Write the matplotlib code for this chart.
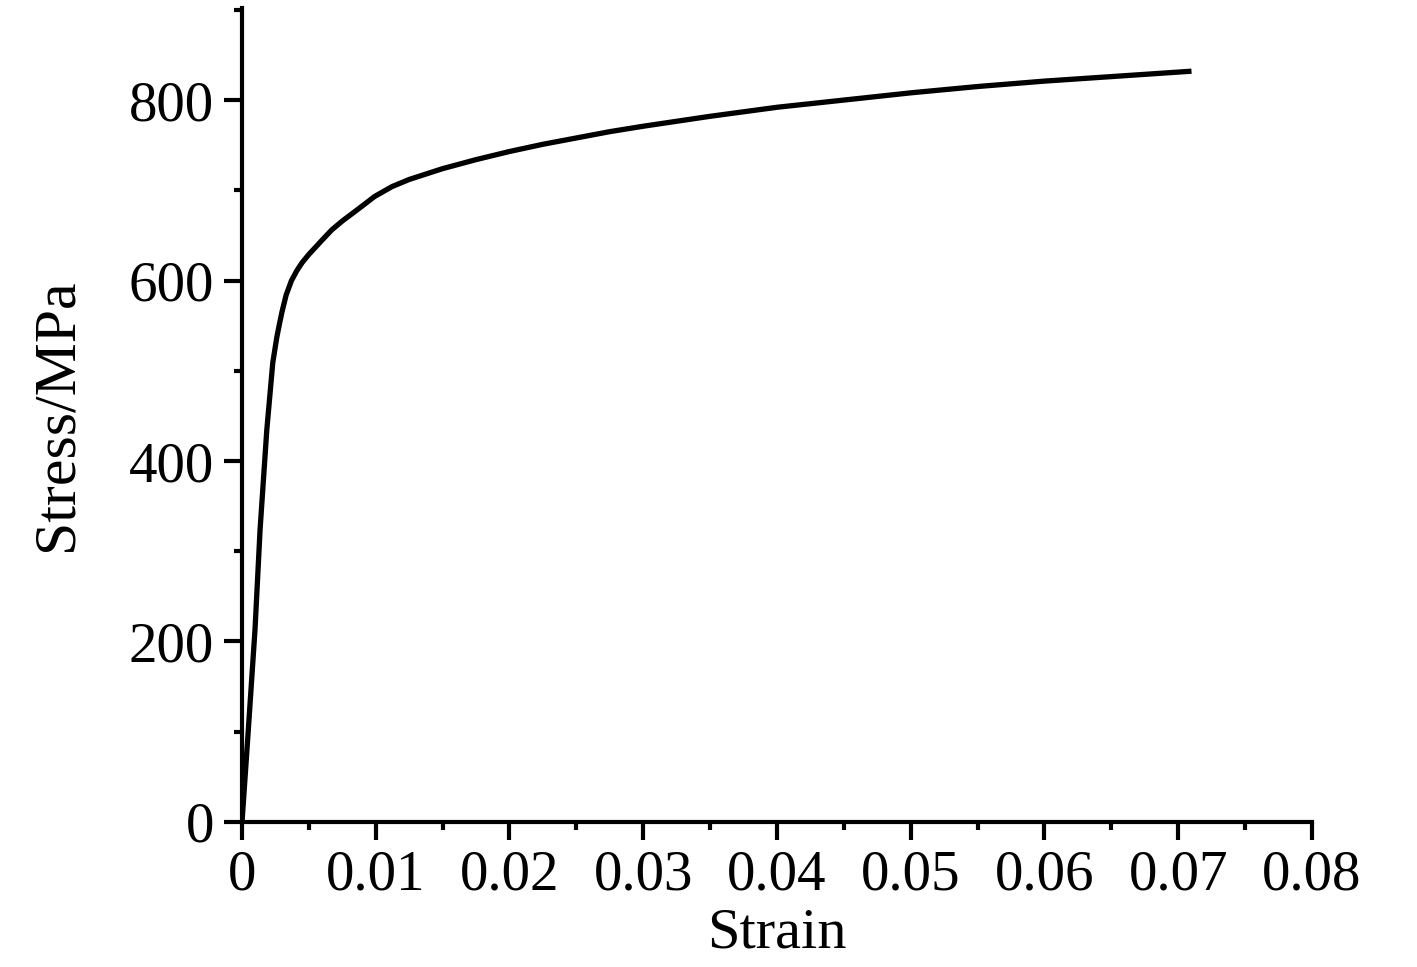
import matplotlib.pyplot as plt
import numpy as np

plt.rcParams['font.family'] = ['Liberation Serif', 'DejaVu Serif']

# stress-strain curve
strain = [0, 0.00047, 0.00097, 0.00135, 0.00185, 0.0023, 0.0026, 0.0028, 0.0030,
          0.0033, 0.0037, 0.0041, 0.0045, 0.0050, 0.0055, 0.0060, 0.0067, 0.0075,
          0.0084, 0.0092, 0.0099, 0.0112, 0.0125, 0.015, 0.0175, 0.02, 0.0225,
          0.025, 0.0275, 0.03, 0.035, 0.04, 0.045, 0.05, 0.055, 0.06, 0.065, 0.071]
stress = [0, 102, 213, 324, 434, 509, 537, 552, 566,
          584, 600, 611, 620, 629, 637, 645, 656, 666,
          676, 685, 693, 704, 712, 724, 734, 743, 751,
          758, 765, 771, 782, 792, 800, 808, 815, 821, 826, 832]

fig = plt.figure(figsize=(14.17, 9.67), dpi=100)
ax = fig.add_axes([0.1708, 0.15, 0.755, 0.8417])

ax.plot(strain, stress, color='black', lw=3.8, solid_capstyle='butt',
        solid_joinstyle='round')

ax.set_xlim(0, 0.08)
ax.set_ylim(0, 902)
ax.set_xticks(np.arange(0, 0.081, 0.01))
ax.set_xticklabels(['0', '0.01', '0.02', '0.03', '0.04', '0.05', '0.06', '0.07', '0.08'])
ax.set_xticks(np.arange(0.005, 0.08, 0.01), minor=True)
ax.set_yticks([0, 200, 400, 600, 800])
ax.set_yticks([100, 300, 500, 700, 900], minor=True)

for s in ['top', 'right']:
    ax.spines[s].set_visible(False)
for s in ['left', 'bottom']:
    ax.spines[s].set_linewidth(3)

ax.tick_params(which='major', direction='out', length=13, width=3, labelsize=41, pad=7)
ax.tick_params(which='minor', direction='out', length=6, width=3)

ax.set_xlabel('Strain', fontsize=42, labelpad=4)
ax.set_ylabel('Stress/MPa', fontsize=43, labelpad=32)

fig.savefig('out.png', dpi=100)
